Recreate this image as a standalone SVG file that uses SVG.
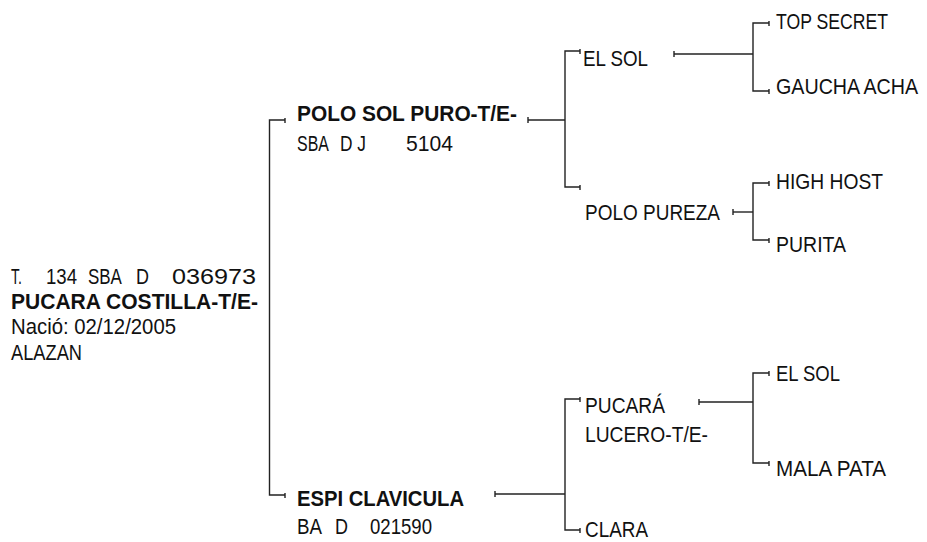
<svg xmlns="http://www.w3.org/2000/svg" width="927" height="542" viewBox="0 0 927 542">
<style>
  text { font-family: "Liberation Sans", Arial, sans-serif; font-size: 22px; fill: #111; }
  .b { font-weight: bold; }
  .c line, .c path { stroke: #222; stroke-width: 1.4; fill: none; }
</style>
<rect width="927" height="542" fill="#fff"/>
<g id="connectors" class="c">
  <path d="M285,120 H269.5 V495 H285"/>
  <line x1="285" y1="118" x2="285" y2="123"/>
  <line x1="285" y1="493" x2="285" y2="498"/>
  <path d="M528,120 H565"/>
  <line x1="528" y1="117" x2="528" y2="123"/>
  <path d="M580,51 H565 V187 H580"/>
  <line x1="580" y1="49" x2="580" y2="54"/>
  <line x1="580" y1="185" x2="580" y2="190"/>
  <path d="M674,54 H753"/>
  <line x1="674" y1="51" x2="674" y2="57"/>
  <path d="M769,23 H753 V91 H769"/>
  <line x1="769" y1="21" x2="769" y2="26"/>
  <line x1="769" y1="89" x2="769" y2="94"/>
  <path d="M733,212 H753"/>
  <line x1="733" y1="209" x2="733" y2="215"/>
  <path d="M769,183 H753 V240 H769"/>
  <line x1="769" y1="181" x2="769" y2="186"/>
  <line x1="769" y1="238" x2="769" y2="243"/>
  <path d="M495,494 H565"/>
  <line x1="495" y1="491" x2="495" y2="497"/>
  <path d="M580,399 H565 V530 H580"/>
  <line x1="580" y1="397" x2="580" y2="402"/>
  <line x1="580" y1="528" x2="580" y2="533"/>
  <path d="M699,402 H753"/>
  <line x1="699" y1="399" x2="699" y2="405"/>
  <path d="M769,373 H753 V463 H769"/>
  <line x1="769" y1="371" x2="769" y2="376"/>
  <line x1="769" y1="461" x2="769" y2="466"/>
</g>
<g id="root">
  <text xml:space="preserve"><tspan x="11" y="284" textLength="11" lengthAdjust="spacingAndGlyphs">T.</tspan> <tspan x="46" y="284" textLength="31" lengthAdjust="spacingAndGlyphs">134</tspan> <tspan x="88" y="284" textLength="33" lengthAdjust="spacingAndGlyphs">SBA</tspan> <tspan x="136" y="284" textLength="13" lengthAdjust="spacingAndGlyphs">D</tspan> <tspan x="172" y="284" textLength="84" lengthAdjust="spacingAndGlyphs">036973</tspan></text>
  <text class="b" x="11" y="309" textLength="247" lengthAdjust="spacingAndGlyphs">PUCARA COSTILLA-T/E-</text>
  <text x="11" y="334" textLength="165" lengthAdjust="spacingAndGlyphs">Nació: 02/12/2005</text>
  <text x="11" y="360" textLength="71" lengthAdjust="spacingAndGlyphs">ALAZAN</text>
</g>
<g id="polo-sol-puro">
  <text class="b" x="297" y="121" textLength="220" lengthAdjust="spacingAndGlyphs">POLO SOL PURO-T/E-</text>
  <text xml:space="preserve"><tspan x="297" y="151" textLength="31" lengthAdjust="spacingAndGlyphs">SBA</tspan> <tspan x="340" y="151" textLength="26" lengthAdjust="spacingAndGlyphs">D J</tspan> <tspan x="406" y="151" textLength="47" lengthAdjust="spacingAndGlyphs">5104</tspan></text>
</g>
<g id="espi-clavicula">
  <text class="b" x="297" y="506" textLength="167" lengthAdjust="spacingAndGlyphs">ESPI CLAVICULA</text>
  <text xml:space="preserve"><tspan x="297" y="534" textLength="24" lengthAdjust="spacingAndGlyphs">BA</tspan> <tspan x="335" y="534" textLength="13" lengthAdjust="spacingAndGlyphs">D</tspan> <tspan x="370" y="534" textLength="62" lengthAdjust="spacingAndGlyphs">021590</tspan></text>
</g>
<g id="el-sol-1"><text x="583" y="66" textLength="65" lengthAdjust="spacingAndGlyphs">EL SOL</text></g>
<g id="polo-pureza"><text x="585" y="220" textLength="135" lengthAdjust="spacingAndGlyphs">POLO PUREZA</text></g>
<g id="pucara-lucero">
  <text x="585" y="413" textLength="80" lengthAdjust="spacingAndGlyphs">PUCARÁ</text>
  <text x="585" y="442" textLength="123" lengthAdjust="spacingAndGlyphs">LUCERO-T/E-</text>
</g>
<g id="clara"><text x="585" y="537" textLength="63" lengthAdjust="spacingAndGlyphs">CLARA</text></g>
<g id="top-secret"><text x="776" y="29" textLength="112" lengthAdjust="spacingAndGlyphs">TOP SECRET</text></g>
<g id="gaucha-acha"><text transform="translate(776,94) scale(0.895,1)" x="0" y="0">GAUCHA ACHA</text></g>
<g id="high-host"><text x="776" y="189" textLength="107" lengthAdjust="spacingAndGlyphs">HIGH HOST</text></g>
<g id="purita"><text x="776" y="252" textLength="70" lengthAdjust="spacingAndGlyphs">PURITA</text></g>
<g id="el-sol-2"><text x="776" y="381" textLength="64" lengthAdjust="spacingAndGlyphs">EL SOL</text></g>
<g id="mala-pata"><text x="776" y="476" textLength="110" lengthAdjust="spacingAndGlyphs">MALA PATA</text></g>
</svg>
